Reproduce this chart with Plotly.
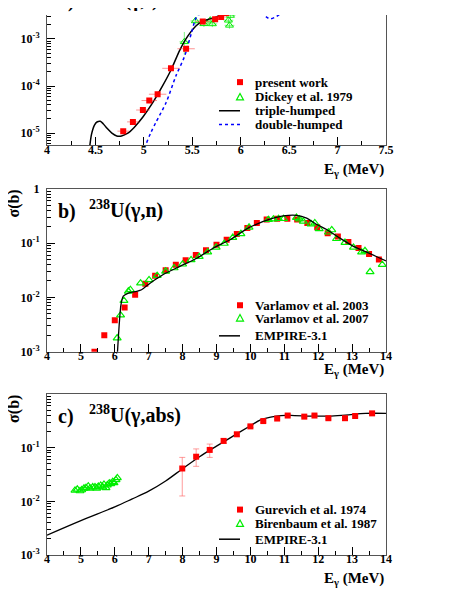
import plotly.graph_objects as go

SERIF = "Liberation Serif"

# ---- panel a: 238U(gamma,f) ----
a_present_e = [4.787, 4.887, 4.99, 5.056, 5.142, 5.28, 5.436, 5.608, 5.736, 5.798, 5.85, 5.894]
a_present_s = [1.10e-5, 1.73e-5, 3.09e-5, 4.92e-5, 6.7e-5, 2.38e-4, 6.2e-4, 2.34e-3, 2.63e-3, 2.94e-3, 3.55e-3, 4.17e-3]
a_present_de = [0.06, 0.06, 0.07, 0.08, 0.09, 0.09, 0.09, 0.07, 0.06, 0.06, 0.06, 0.06]

a_dickey_e = [5.418, 5.532, 5.555, 5.62, 5.686, 5.707, 5.873, 5.884, 5.894]
a_dickey_s = [8.7e-4, 2.42e-3, 3.8e-3, 2.1e-3, 2.5e-3, 2.09e-3, 2.5e-3, 1.95e-3, 3.16e-3]
a_dickey_up = [5.4e-4, 5e-4, 7e-4, 4e-4, 5e-4, 4e-4, 5e-4, 4e-4, 6e-4]
a_dickey_dn = [4.0e-4, 4e-4, 6e-4, 3e-4, 4e-4, 3e-4, 4e-4, 3e-4, 5e-4]

a_triple_e = [4.42, 4.44, 4.46, 4.49, 4.52, 4.55, 4.58, 4.62, 4.67, 4.72, 4.77, 4.83, 4.90, 4.99,
              5.09, 5.19, 5.28, 5.37, 5.45, 5.54, 5.61, 5.75, 5.90, 6.00, 6.06, 6.12, 6.18, 6.25,
              6.32, 6.42, 6.54, 6.65]
a_triple_s = [2.0e-6, 5.0e-6, 9.5e-6, 1.48e-5, 1.74e-5, 1.78e-5, 1.58e-5, 1.26e-5, 1.0e-5, 8.7e-6,
              8.7e-6, 9.8e-6, 1.32e-5, 2.19e-5, 4.37e-5, 9.8e-5, 2.19e-4, 5.75e-4, 1.12e-3, 1.91e-3,
              2.40e-3, 2.95e-3, 4.37e-3, 6.3e-3, 6.9e-3, 6.0e-3, 4.68e-3, 3.89e-3, 3.72e-3, 4.07e-3,
              4.79e-3, 6.0e-3]

a_double_e = [4.98, 5.02, 5.07, 5.125, 5.23, 5.33, 5.42, 5.49, 5.54, 5.59, 5.64, 5.70, 5.75, 5.83,
              5.90, 6.00, 6.08, 6.15, 6.22, 6.30, 6.37, 6.44, 6.50, 6.60]
a_double_s = [2.0e-6, 5.5e-6, 1.0e-5, 1.70e-5, 4.47e-5, 1.62e-4, 4.27e-4, 1.32e-3, 2.82e-3, 3.55e-3,
              3.72e-3, 3.55e-3, 3.47e-3, 3.72e-3, 4.37e-3, 6.0e-3, 6.6e-3, 5.25e-3, 3.55e-3, 2.69e-3,
              3.02e-3, 3.80e-3, 4.79e-3, 6.6e-3]

# ---- panel b: 238U(gamma,n) ----
b_v03_e = [5.40, 5.69, 6.00, 6.29, 6.60, 6.90, 7.19, 7.50, 7.80, 8.09, 8.39, 8.69, 9.00, 9.30, 9.60,
           9.91, 10.19, 10.48, 10.79, 11.09, 11.38, 11.68, 11.97, 12.28, 12.58, 12.89, 13.19, 13.50, 13.79]
b_v03_s = [1.0e-3, 2.0e-3, 3.8e-3, 6.5e-3, 1.12e-2, 1.78e-2, 2.5e-2, 3.14e-2, 3.97e-2, 4.8e-2, 6.0e-2,
           7.4e-2, 9.3e-2, 0.115, 0.147, 0.19, 0.233, 0.27, 0.28, 0.28, 0.27, 0.233, 0.195, 0.152,
           0.132, 0.104, 0.081, 0.063, 0.050]

b_v07_e = [6.07, 6.17, 6.27, 6.40, 6.46, 6.76, 7.01, 7.25, 7.50, 7.75, 8.00, 8.25, 8.49, 8.74, 8.99,
           9.23, 9.48, 9.72, 9.96, 10.53, 10.68, 10.83, 10.98, 11.36, 11.45, 11.56, 11.79, 11.90,
           12.03, 12.30, 12.40, 12.54, 12.79, 13.04, 13.28, 13.38, 13.53, 13.89]
b_v07_s = [1.78e-3, 4.7e-3, 8.7e-3, 1.29e-2, 1.38e-2, 1.82e-2, 2.09e-2, 2.51e-2, 3.02e-2, 3.47e-2,
           4.07e-2, 4.9e-2, 5.6e-2, 6.8e-2, 8.3e-2, 9.8e-2, 0.126, 0.148, 0.195, 0.27, 0.275, 0.28,
           0.28, 0.295, 0.275, 0.25, 0.224, 0.234, 0.182, 0.158, 0.174, 0.120, 0.102, 0.083, 0.068,
           0.072, 0.0295, 0.040]

b_empire_e = [6.06, 6.08, 6.13, 6.18, 6.25, 6.40, 6.64, 6.79, 7.04, 7.43, 7.92, 8.42, 8.91, 9.40,
              9.89, 10.19, 10.58, 10.97, 11.36, 11.66, 11.96, 12.25, 12.64, 13.04, 13.43, 13.73, 14.0]
b_empire_s = [5.0e-4, 1.0e-3, 3.16e-3, 7.2e-3, 1.05e-2, 1.20e-2, 1.29e-2, 1.38e-2, 1.82e-2, 2.63e-2,
              3.72e-2, 5.25e-2, 8.1e-2, 0.115, 0.182, 0.224, 0.275, 0.316, 0.324, 0.288, 0.219,
              0.178, 0.123, 0.087, 0.068, 0.056, 0.047]

# ---- panel c: 238U(gamma,abs) ----
c_gur_e = [7.99, 8.40, 8.80, 9.21, 9.60, 10.0, 10.38, 10.79, 11.10, 11.59, 11.89, 12.30, 12.79, 13.09, 13.59]
c_gur_s = [0.041, 0.068, 0.091, 0.134, 0.178, 0.25, 0.314, 0.35, 0.398, 0.38, 0.398, 0.355, 0.355, 0.39, 0.437]
c_gur_up = [0.025, 0.027, 0.026, 0.014, 0.015, 0.012, 0.015, 0.015, 0.015, 0.015, 0.015, 0.015, 0.015, 0.015, 0.015]
c_gur_dn = [0.0284, 0.023, 0.025, 0.014, 0.015, 0.012, 0.015, 0.015, 0.015, 0.015, 0.015, 0.015, 0.015, 0.015, 0.015]

c_bir_e = [4.826, 4.894, 4.973, 5.023, 5.091, 5.150, 5.218, 5.268, 5.348, 5.416, 5.466, 5.513, 5.584,
           5.643, 5.681, 5.740, 5.779, 5.838, 5.879, 5.938, 5.976, 6.035, 6.074]
c_bir_s = [0.0160, 0.0168, 0.0156, 0.0163, 0.0175, 0.0179, 0.0192, 0.0175, 0.0185, 0.0185, 0.0175,
           0.0190, 0.0198, 0.0185, 0.0207, 0.0179, 0.0201, 0.0218, 0.0212, 0.0231, 0.0221, 0.0251, 0.0274]

c_empire_e = [4.0, 5.0, 6.0, 6.5, 7.0, 7.5, 8.0, 8.5, 9.0, 9.5, 10.0, 10.3, 10.6, 10.9, 11.3, 11.8, 12.3, 12.8, 13.4, 14.0]
c_empire_s = [2.34e-3, 4.37e-3, 7.9e-3, 1.10e-2, 1.55e-2, 2.40e-2, 4.07e-2, 6.8e-2, 0.107, 0.166, 0.257, 0.331,
              0.372, 0.398, 0.398, 0.389, 0.389, 0.407, 0.437, 0.437]

RED = "#ff0000"
GREEN = "#00ee00"
BLUE = "#0000ff"

# the page puts the figure 8px in from the top-left corner of the window
W, H = 455, 591
PLOT_H = 547


# window pixel -> paper coordinates (plot area spans x 47..386, y 8..555 of the window)
def px(x):
    return (x - 47) / 339


def py(y):
    return (555 - y) / PLOT_H


fig = go.Figure()

# panel a
fig.add_trace(go.Scatter(x=a_dickey_e, y=a_dickey_s, mode="markers", xaxis="x", yaxis="y",
                         marker=dict(symbol="triangle-up-open", size=7, color=GREEN, line=dict(width=1)),
                         error_y=dict(type="data", array=a_dickey_up, arrayminus=a_dickey_dn,
                                      color="rgba(0,230,0,0.5)", thickness=1, width=0),
                         error_x=dict(type="constant", value=0.05, color="rgba(0,230,0,0.5)", thickness=1, width=0)))
fig.add_trace(go.Scatter(x=a_triple_e, y=a_triple_s, mode="lines", xaxis="x", yaxis="y",
                         line=dict(color="black", width=1.5, shape="spline", smoothing=0.8)))
fig.add_trace(go.Scatter(x=a_double_e, y=a_double_s, mode="lines", xaxis="x", yaxis="y",
                         line=dict(color=BLUE, width=1.5, dash="dot", shape="spline", smoothing=0.8)))
fig.add_trace(go.Scatter(x=a_present_e, y=a_present_s, mode="markers", xaxis="x", yaxis="y",
                         marker=dict(symbol="square", size=6, color=RED),
                         error_x=dict(type="data", array=a_present_de, color="rgba(255,60,60,0.55)", thickness=1, width=0),
                         error_y=dict(type="percent", value=12, color="rgba(255,60,60,0.55)", thickness=1, width=0)))

# panel b
fig.add_trace(go.Scatter(x=b_v03_e, y=b_v03_s, mode="markers", xaxis="x2", yaxis="y2",
                         marker=dict(symbol="square", size=6, color=RED)))
fig.add_trace(go.Scatter(x=b_v07_e, y=b_v07_s, mode="markers", xaxis="x2", yaxis="y2",
                         marker=dict(symbol="triangle-up-open", size=7, color=GREEN, line=dict(width=1.2))))
fig.add_trace(go.Scatter(x=b_empire_e, y=b_empire_s, mode="lines", xaxis="x2", yaxis="y2",
                         line=dict(color="black", width=1.3, shape="spline", smoothing=0.6)))

# panel c
fig.add_trace(go.Scatter(x=c_bir_e, y=c_bir_s, mode="markers", xaxis="x3", yaxis="y3",
                         marker=dict(symbol="triangle-up-open", size=7, color=GREEN, line=dict(width=1.2))))
fig.add_trace(go.Scatter(x=c_empire_e, y=c_empire_s, mode="lines", xaxis="x3", yaxis="y3",
                         line=dict(color="black", width=1.3, shape="spline", smoothing=1.0)))
fig.add_trace(go.Scatter(x=c_gur_e, y=c_gur_s, mode="markers", xaxis="x3", yaxis="y3",
                         marker=dict(symbol="square", size=6, color=RED),
                         error_y=dict(type="data", array=c_gur_up, arrayminus=c_gur_dn,
                                      color="rgba(255,90,90,0.6)", thickness=1, width=3)))

tickfont = dict(family=SERIF, size=12, weight="bold", color="black")


def xax(anchor, rng, dtick, minor, mirror=True):
    return dict(anchor=anchor, domain=[0, 1], range=rng, dtick=dtick, tick0=4,
                showline=True, linecolor="#555", linewidth=1, mirror=mirror,
                ticks="inside", ticklen=8, tickcolor="black", tickfont=tickfont, ticklabelstandoff=-7,
                minor=dict(ticks="inside", ticklen=4, dtick=minor, tick0=4, tickcolor="black"),
                showgrid=False, zeroline=False)


def yax(anchor, dom, rng, vals, texts):
    return dict(anchor=anchor, domain=dom, type="log", range=rng,
                tickmode="array", tickvals=vals, ticktext=texts,
                showline=True, linecolor="#555", linewidth=1, mirror=True,
                ticks="inside", ticklen=8, tickcolor="black", tickfont=tickfont, ticklabelstandoff=4,
                minor=dict(ticks="inside", ticklen=4, dtick="D1", tickcolor="black"),
                showgrid=False, zeroline=False)


fig.update_layout(
    width=W, height=H, autosize=False,
    margin=dict(l=39, r=77, t=0, b=H - PLOT_H),
    paper_bgcolor="white", plot_bgcolor="white",
    showlegend=False,
    font=dict(family=SERIF, weight="bold", color="black"),
    xaxis=xax("y", [4, 7.5], 0.5, 0.25, mirror=False),
    yaxis=yax("x", [py(140), 1.0], [-5.26, -2.49], [1e-5, 1e-4, 1e-3],
              ["10<sup>-5</sup>", "10<sup>-4</sup>", "10<sup>-3</sup>"]),
    xaxis2=xax("y2", [4, 14], 1, 0.5),
    yaxis2=yax("x2", [py(349), py(184)], [-3, 0], [1e-3, 1e-2, 1e-1, 1],
               ["10<sup>-3</sup>", "10<sup>-2</sup>", "10<sup>-1</sup>", "1"]),
    xaxis3=xax("y3", [4, 14], 1, 0.5),
    yaxis3=yax("x3", [0, py(392)], [-3, 0], [1e-3, 1e-2, 1e-1],
               ["10<sup>-3</sup>", "10<sup>-2</sup>", "10<sup>-1</sup>"]),
)


def note(x, y, text, size, xanchor="left", angle=0):
    fig.add_annotation(xref="paper", yref="paper", x=px(x), y=py(y), text=text, showarrow=False,
                       xanchor=xanchor, yanchor="middle", textangle=angle,
                       font=dict(family=SERIF, size=size, weight="bold", color="black"))


# panel titles, axis titles
for top, label, reaction in [(-30, "a)", "<sup>238</sup>U(γ,f)"),
                             (184, "b)", "<sup>238</sup>U(γ,n)"),
                             (392, "c)", "<sup>238</sup>U(γ,abs)")]:
    note(56, top + 23, label, 20)
    note(87, top + 21, reaction, 20)
    note(14, top + 15, "σ(b)", 16, xanchor="center", angle=-90)

for y in [165, 368, 579]:
    note(386, y, "E<sub>γ</sub> (MeV)", 15, xanchor="right")


# hand-drawn legends
def legend_row(y, text, kind):
    if kind == "square":
        fig.add_shape(type="rect", xref="paper", yref="paper", xsizemode="pixel", ysizemode="pixel",
                      xanchor=px(240), yanchor=py(y), x0=-3, x1=3, y0=-3, y1=3,
                      fillcolor=RED, line=dict(width=0))
    elif kind == "triangle":
        fig.add_shape(type="path", xref="paper", yref="paper", xsizemode="pixel", ysizemode="pixel",
                      xanchor=px(240), yanchor=py(y), path="M -3.5,-3 L 3.5,-3 L 0,3.5 Z",
                      line=dict(color=GREEN, width=1.2))
    else:
        color, dash = ("black", "solid") if kind == "line" else (BLUE, "dot")
        fig.add_shape(type="line", xref="paper", yref="paper", x0=px(219), x1=px(240),
                      y0=py(y), y1=py(y), line=dict(color=color, width=1.5, dash=dash))
    note(253, y, text, 13)


legend_row(76, "present work", "square")
legend_row(91, "Dickey et al. 1979", "triangle")
legend_row(105, "triple-humped", "line")
legend_row(119, "double-humped", "dash")

legend_row(302, "Varlamov et al. 2003", "square")
legend_row(315, "Varlamov et al. 2007", "triangle")
legend_row(333, "EMPIRE-3.1", "line")

legend_row(509, "Gurevich et al. 1974", "square")
legend_row(523, "Birenbaum et al. 1987", "triangle")
legend_row(539, "EMPIRE-3.1", "line")

fig.write_html("out.html")
